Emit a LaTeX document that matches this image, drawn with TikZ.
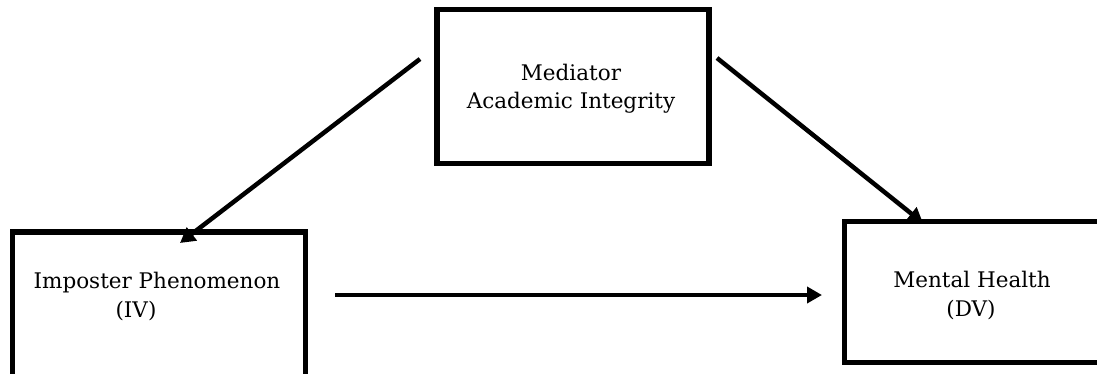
\documentclass[tikz,border=0pt]{standalone}
\usepackage{fontspec}
\setmainfont{DejaVu Serif}
\usetikzlibrary{arrows.meta}
\begin{document}
\begin{tikzpicture}[x=1pt,y=-1pt,
  box/.style={draw,line width=5.5pt,inner sep=0pt,outer sep=0pt},
  lbl/.style={font=\fontsize{21.5}{28}\selectfont,inner sep=0pt,anchor=base},
  conn/.style={line width=4.5pt,-{Triangle[length=15pt,width=16pt]}}]
\useasboundingbox (0,0) rectangle (1097,373);
\clip (0,0) rectangle (1097,373);
% boxes
\node[box,minimum width=272pt,minimum height=154pt] (med) at (573,86.5) {};
\node[box,minimum width=293pt,minimum height=168pt] (iv) at (159,316) {};
\node[box,minimum width=255.5pt,minimum height=141pt] (dv) at (972.25,292) {};
% labels
\node[lbl] (medA) at (571,80) {Mediator};
\node[lbl] (medB) at (571,108) {Academic Integrity};
\node[lbl] (ivA) at (157,288) {Imposter Phenomenon};
\node[lbl] (ivB) at (136,317) {(IV)};
\node[lbl] (dvA) at (972,287) {Mental Health};
\node[lbl] (dvB) at (971,316) {(DV)};
% connector ends
\coordinate (s1) at (420,59);
\coordinate (e1) at (180,243);
\coordinate (s2) at (717,58);
\coordinate (e2) at (923,223);
\coordinate (s3) at (335,295);
\coordinate (e3) at (822,295);
\draw[conn] (s1) -- (e1);
\draw[conn] (s2) -- (e2);
\draw[conn] (s3) -- (e3);
\end{tikzpicture}
\end{document}
